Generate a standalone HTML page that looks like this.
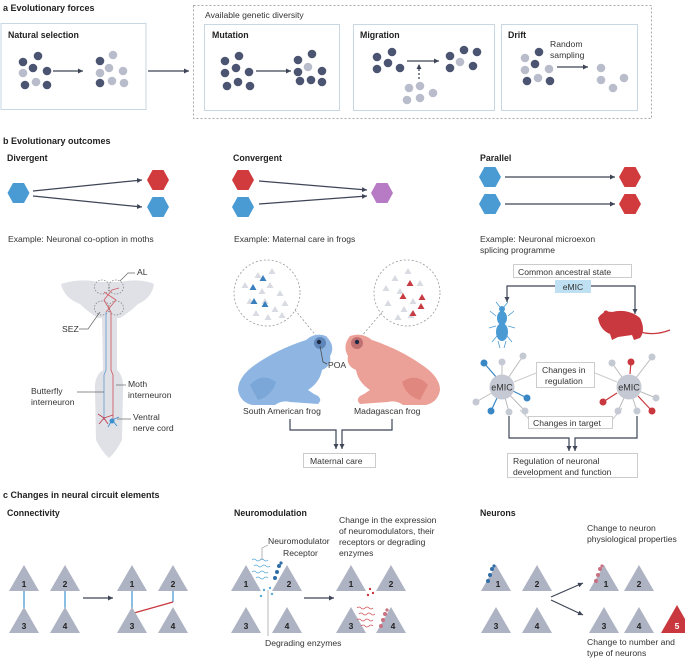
<!DOCTYPE html>
<html><head><meta charset="utf-8"><style>
html,body{margin:0;padding:0;background:#fff}
svg{display:block}
text{font-family:"Liberation Sans",sans-serif;fill:#333;font-size:8.6px}
.t{font-weight:bold;font-size:9px;fill:#222}
.h{font-weight:bold;font-size:8.8px;fill:#222}
.n{font-weight:bold;font-size:8.5px;fill:#222;text-anchor:middle}
</style></head><body>
<svg width="685" height="659" viewBox="0 0 685 659" xmlns="http://www.w3.org/2000/svg">
<defs>
<marker id="ar" markerWidth="6" markerHeight="6" refX="5" refY="3" orient="auto" markerUnits="userSpaceOnUse"><path d="M0,0.5 L5,3 L0,5.5z" fill="#3d4556"/></marker>
<g id="d"><circle r="4.3" fill="#4b5470"/></g>
<g id="l"><circle r="4.3" fill="#b9bdcb"/></g>
</defs>
<!-- a -->
<text x="3" y="11" class="t">a  Evolutionary forces</text>
<rect x="1" y="23.5" width="145" height="86" fill="none" stroke="#c9d7e2"/>
<text x="8" y="38" class="h">Natural selection</text>
<g stroke="#3d4556" stroke-width="1.3" fill="none">
<line x1="53" y1="71" x2="83" y2="71" marker-end="url(#ar)"/>
<line x1="148" y1="71" x2="189" y2="71" marker-end="url(#ar)"/>
<line x1="256" y1="71" x2="291" y2="71" marker-end="url(#ar)"/>
<line x1="407" y1="61" x2="439" y2="61" marker-end="url(#ar)"/>
<line x1="557" y1="67" x2="588" y2="67" marker-end="url(#ar)"/>
<line x1="419" y1="79" x2="419" y2="64" stroke-dasharray="2,2" marker-end="url(#ar)"/>
</g>
<rect x="193.5" y="5.5" width="458" height="113" fill="none" stroke="#aaa" stroke-dasharray="2,2"/>
<text x="205" y="18" style="font-size:8.6px">Available genetic diversity</text>
<rect x="204.5" y="24.5" width="135" height="86" fill="none" stroke="#c9d7e2"/>
<rect x="353.5" y="24.5" width="141" height="86" fill="none" stroke="#c9d7e2"/>
<rect x="501.5" y="24.5" width="136" height="86" fill="none" stroke="#c9d7e2"/>
<text x="212" y="38" class="h">Mutation</text>
<text x="360" y="38" class="h">Migration</text>
<text x="508" y="38" class="h">Drift</text>
<text x="550" y="47">Random</text><text x="550" y="58">sampling</text>
<g>
<use href="#d" x="38" y="56"/><use href="#d" x="23" y="62"/><use href="#d" x="33" y="68"/><use href="#l" x="23" y="73"/><use href="#d" x="47" y="71"/><use href="#d" x="25" y="85"/><use href="#l" x="36" y="82"/><use href="#d" x="47" y="85"/>
<use href="#l" x="113" y="55"/><use href="#d" x="100" y="61"/><use href="#l" x="109" y="68"/><use href="#l" x="100" y="73"/><use href="#l" x="123" y="71"/><use href="#d" x="100" y="83"/><use href="#l" x="112" y="81"/><use href="#l" x="124" y="83"/>
<use href="#d" x="239" y="56"/><use href="#d" x="225" y="61"/><use href="#d" x="236" y="68"/><use href="#d" x="225" y="73"/><use href="#d" x="249" y="72"/><use href="#d" x="227" y="86"/><use href="#d" x="238" y="82"/><use href="#d" x="250" y="86"/>
<use href="#d" x="312" y="54"/><use href="#d" x="298" y="60"/><use href="#l" x="308" y="67"/><use href="#d" x="298" y="72"/><use href="#d" x="322" y="71"/><use href="#d" x="300" y="81"/><use href="#d" x="311" y="80"/><use href="#d" x="322" y="82"/>
<use href="#d" x="392" y="52"/><use href="#d" x="377" y="57"/><use href="#d" x="388" y="63"/><use href="#d" x="377" y="69"/><use href="#d" x="400" y="68"/>
<use href="#d" x="464" y="50"/><use href="#d" x="450" y="56"/><use href="#d" x="477" y="52"/><use href="#l" x="460" y="62"/><use href="#d" x="450" y="68"/><use href="#d" x="473" y="66"/>
<use href="#l" x="420" y="86"/><use href="#l" x="409" y="88"/><use href="#l" x="433" y="93"/><use href="#l" x="407" y="100"/><use href="#l" x="420" y="98"/>
<use href="#d" x="539" y="52"/><use href="#l" x="525" y="58"/><use href="#d" x="535" y="64"/><use href="#l" x="525" y="70"/><use href="#l" x="549" y="69"/><use href="#d" x="527" y="81"/><use href="#l" x="538" y="78"/><use href="#d" x="550" y="81"/>
<use href="#l" x="601" y="68"/><use href="#l" x="601" y="80"/><use href="#l" x="624" y="78"/><use href="#l" x="613" y="88"/>
</g>
<!-- b -->
<text x="3" y="144" class="t">b  Evolutionary outcomes</text>
<text x="7" y="161" class="h">Divergent</text>
<text x="233" y="161" class="h">Convergent</text>
<text x="480" y="161" class="h">Parallel</text>
<g stroke="#3d4556" stroke-width="1.2" fill="none">
<line x1="33" y1="191" x2="142" y2="180" marker-end="url(#ar)"/>
<line x1="33" y1="196" x2="142" y2="207" marker-end="url(#ar)"/>
<line x1="259" y1="181" x2="367" y2="190" marker-end="url(#ar)"/>
<line x1="259" y1="204" x2="367" y2="196" marker-end="url(#ar)"/>
<line x1="505" y1="177" x2="615" y2="177" marker-end="url(#ar)"/>
<line x1="505" y1="204" x2="615" y2="204" marker-end="url(#ar)"/>
</g>
<g>
<path d="M-11,0 L-5.5,-10 L5.5,-10 L11,0 L5.5,10 L-5.5,10z" fill="#4a9bd4" transform="translate(18.5,193)"/>
<path d="M-11,0 L-5.5,-10 L5.5,-10 L11,0 L5.5,10 L-5.5,10z" fill="#d13b3e" transform="translate(158,180)"/>
<path d="M-11,0 L-5.5,-10 L5.5,-10 L11,0 L5.5,10 L-5.5,10z" fill="#4a9bd4" transform="translate(158,207)"/>
<path d="M-11,0 L-5.5,-10 L5.5,-10 L11,0 L5.5,10 L-5.5,10z" fill="#d13b3e" transform="translate(243,180)"/>
<path d="M-11,0 L-5.5,-10 L5.5,-10 L11,0 L5.5,10 L-5.5,10z" fill="#4a9bd4" transform="translate(243,207)"/>
<path d="M-11,0 L-5.5,-10 L5.5,-10 L11,0 L5.5,10 L-5.5,10z" fill="#b67bc4" transform="translate(382,193)"/>
<path d="M-11,0 L-5.5,-10 L5.5,-10 L11,0 L5.5,10 L-5.5,10z" fill="#4a9bd4" transform="translate(490,177)"/>
<path d="M-11,0 L-5.5,-10 L5.5,-10 L11,0 L5.5,10 L-5.5,10z" fill="#4a9bd4" transform="translate(490,204)"/>
<path d="M-11,0 L-5.5,-10 L5.5,-10 L11,0 L5.5,10 L-5.5,10z" fill="#d13b3e" transform="translate(630,177)"/>
<path d="M-11,0 L-5.5,-10 L5.5,-10 L11,0 L5.5,10 L-5.5,10z" fill="#d13b3e" transform="translate(630,204)"/>
</g>
<text x="8" y="242">Example: Neuronal co-option in moths</text>
<text x="234" y="242">Example: Maternal care in frogs</text>
<text x="480" y="242">Example: Neuronal microexon</text>
<text x="480" y="253">splicing programme</text>
<!-- moth -->
<path d="M61,284 Q80,278 98,282 L120,282 Q140,278 154,284 Q152,298 138,304 Q130,312 120,318 L117,318 L117,370 Q124,376 123,390 L122,440 Q116,452 109,458 Q102,452 96,440 L95,390 Q94,376 103,370 L102,318 L98,318 Q88,312 80,304 Q64,298 61,284z" fill="#dfe1e6"/>
<g fill="none" stroke="#888" stroke-dasharray="1.5,1.5" stroke-width="0.8">
<ellipse cx="102" cy="287" rx="7.5" ry="7"/><ellipse cx="116" cy="287" rx="7.5" ry="7"/>
<ellipse cx="102" cy="308" rx="7.5" ry="7"/><ellipse cx="116" cy="308" rx="7.5" ry="7"/>
</g>
<g fill="none" stroke-width="0.9">
<path d="M106,312 L106,370 L104,375 L104,420" stroke="#6fa0d0"/>
<path d="M111,312 L111,370 L113,375 L113,420" stroke="#d06068"/>
<path d="M111,312 L104,300 L112,290 L119,288" stroke="#d06068"/>
<path d="M106,312 L116,300 L104,292" stroke="#d06068"/>
<path d="M104,418 l-6,-4 m6,4 l4,6 m-4,-6 l-5,6 m5,-6 l9,-3" stroke="#c04050"/>
<path d="M112,420 l7,-3 m-7,3 l5,6 m-5,-6 l-4,7" stroke="#3c8fd0"/>
</g>
<circle cx="112" cy="421" r="2.5" fill="#3c8fd0"/>
<g stroke="#666" stroke-width="0.7" fill="none">
<path d="M120,281 L128,273 L135,273"/>
<path d="M100,312 L88,329 L79,329"/>
<path d="M116,385 L126,385"/>
<path d="M77,392 L104,392"/>
<path d="M117,419 L131,419"/>
</g>
<text x="137" y="275">AL</text>
<text x="62" y="332">SEZ</text>
<text x="128" y="387">Moth</text><text x="128" y="398">interneuron</text>
<text x="31" y="394">Butterfly</text><text x="31" y="405">interneuron</text>
<text x="133" y="420">Ventral</text><text x="133" y="431">nerve cord</text>
<!-- frogs circles -->
<g fill="none" stroke="#999" stroke-dasharray="2,2" stroke-width="0.8">
<circle cx="267" cy="293" r="33"/><circle cx="407" cy="293" r="33"/>
<path d="M295,310 L318,338"/><path d="M383,311 L360,338"/>
</g>
<g fill="#d8dbe2">
<path d="M258,272 l3.5,6 h-7z M245,282 l3.5,6 h-7z M270,282 l3.5,6 h-7z M280,290 l3.5,6 h-7z M250,298 l3.5,6 h-7z M265,298 l3.5,6 h-7z M285,300 l3.5,6 h-7z M275,306 l3.5,6 h-7z M256,310 l3.5,6 h-7z M268,314 l3.5,6 h-7z M282,312 l3.5,6 h-7z M272,268 l3.5,6 h-7z M262,288 l3.5,6 h-7z"/>
<path d="M395,275 l3.5,6 h-7z M408,268 l3.5,6 h-7z M386,285 l3.5,6 h-7z M400,288 l3.5,6 h-7z M420,280 l3.5,6 h-7z M388,300 l3.5,6 h-7z M413,298 l3.5,6 h-7z M404,306 l3.5,6 h-7z M398,314 l3.5,6 h-7z M411,312 l3.5,6 h-7z"/>
</g>
<g fill="#3a80bf"><path d="M263,275 l3.5,6 h-7z M253,284 l3.5,6 h-7z M254,298 l3.5,6 h-7z M265,301 l3.5,6 h-7z"/></g>
<g fill="#c73b42"><path d="M410,280 l3.5,6 h-7z M403,293 l3.5,6 h-7z M422,294 l3.5,6 h-7z M421,303 l3.5,6 h-7z M413,310 l3.5,6 h-7z"/></g>
<!-- blue frog -->
<path d="M326,336 Q315,332 306,340 Q275,350 252,367 Q238,378 238,390 Q240,402 252,405 L275,405 Q282,400 290,402 L318,404 Q324,398 314,394 L308,390 Q320,382 322,370 Q332,366 330,356 Q336,346 326,336z" fill="#8fb6e2"/>
<path d="M250,385 Q262,372 276,382 Q272,396 258,400z" fill="#7aa6d8"/>
<circle cx="320" cy="343" r="6" fill="#5f86b8"/><circle cx="319" cy="342" r="2.2" fill="#1d2a44"/>
<!-- pink frog -->
<path d="M350,336 Q362,332 372,340 Q402,350 425,367 Q440,378 440,390 Q438,402 426,405 L403,405 Q396,400 388,402 L360,404 Q354,398 364,394 L370,390 Q358,382 356,370 Q346,366 348,356 Q342,346 350,336z" fill="#eca198"/>
<path d="M428,385 Q416,372 402,382 Q406,396 420,400z" fill="#e0887f"/>
<circle cx="357" cy="343" r="6" fill="#c07070"/><circle cx="357" cy="342" r="2.2" fill="#1d2a44"/>
<path d="M320,346 L323,362 L327,364" stroke="#444" stroke-width="0.7" fill="none"/>
<text x="328" y="368">POA</text>
<text x="243" y="414">South American frog</text>
<text x="354" y="414">Madagascan frog</text>
<g stroke="#3d4556" stroke-width="1.2" fill="none">
<path d="M290,419 L290,430 L336,430 L336,449" marker-end="url(#ar)"/>
<path d="M392,419 L392,430 L342,430 L342,449" marker-end="url(#ar)"/>
</g>
<rect x="303.5" y="453.5" width="72" height="14" fill="#fff" stroke="#ccc"/>
<text x="310" y="464">Maternal care</text>
<!-- parallel -->
<rect x="513.5" y="264.5" width="118" height="13" fill="#fff" stroke="#ccc"/>
<text x="518" y="275">Common ancestral state</text>
<rect x="555" y="280" width="36" height="13" fill="#bfe0f3"/>
<text x="573" y="290" text-anchor="middle">eMIC</text>
<g stroke="#3d4556" stroke-width="1.2" fill="none">
<path d="M555,286 L507,286 L507,302" marker-end="url(#ar)"/>
<path d="M591,286 L635,286 L635,314" marker-end="url(#ar)"/>
</g>
<!-- insect -->
<g fill="#4a9bd4">
<ellipse cx="502" cy="318" rx="5" ry="7"/><ellipse cx="502" cy="332" rx="6" ry="9"/><circle cx="502" cy="309" r="3"/>
</g>
<g stroke="#4a9bd4" stroke-width="0.8" fill="none"><path d="M496,316 l-6,-5 M508,316 l6,-5 M496,326 l-7,2 M508,326 l7,2 M497,336 l-5,6 M507,336 l5,6 M500,307 l-4,-5 M504,307 l4,-5 M498,341 l2,7 M506,341 l-2,7"/></g>
<!-- mouse -->
<path d="M598,318 Q603,310 612,312 Q628,308 640,318 Q646,330 640,338 L634,340 L632,335 L618,337 L612,340 L610,334 Q600,330 598,318z" fill="#c9383e"/>
<path d="M640,332 Q655,336 670,330" stroke="#c9383e" stroke-width="1.3" fill="none"/>
<circle cx="606" cy="313" r="2.5" fill="#c9383e"/>
<!-- eMIC networks -->
<g stroke="#bbb" stroke-width="1" fill="none">
<path d="M502,387 L502,362 M502,387 L523,356 M502,387 L476,402 M502,387 L509,412 M502,387 L525,411 M629,387 L612,363 M629,387 L652,357 M629,387 L618,411 M629,387 L637,411 M629,387 L656,398"/>
<path d="M536,373 L514,382 M595,373 L617,382 M530,420 L520,410 M612,420 L622,408" stroke="#ccc"/>
</g>
<g stroke="#3a87c6" stroke-width="1.2"><path d="M484,363 L497,378 M527,398 L513,391 M491,411 L497,398"/></g>
<g stroke="#c9383e" stroke-width="1.2"><path d="M631,362 L630,374 M603,402 L617,393 M652,411 L638,396"/></g>
<circle cx="502" cy="387" r="12.5" fill="#c5c9d4"/>
<circle cx="629" cy="387" r="12.5" fill="#c5c9d4"/>
<text x="502" y="390.5" text-anchor="middle" style="font-size:9px">eMIC</text>
<text x="629" y="390.5" text-anchor="middle" style="font-size:9px">eMIC</text>
<g fill="#c5c9d4"><circle cx="502" cy="362" r="3.5"/><circle cx="523" cy="356" r="3.5"/><circle cx="476" cy="402" r="3.5"/><circle cx="509" cy="412" r="3.5"/><circle cx="525" cy="411" r="3.5"/><circle cx="612" cy="363" r="3.5"/><circle cx="652" cy="357" r="3.5"/><circle cx="618" cy="411" r="3.5"/><circle cx="637" cy="411" r="3.5"/><circle cx="656" cy="398" r="3.5"/></g>
<g fill="#3a87c6"><circle cx="484" cy="363" r="3.5"/><circle cx="527" cy="398" r="3.5"/><circle cx="491" cy="411" r="3.5"/></g>
<g fill="#c9383e"><circle cx="631" cy="362" r="3.5"/><circle cx="603" cy="402" r="3.5"/><circle cx="652" cy="411" r="3.5"/></g>
<rect x="536.5" y="362.5" width="58" height="25" fill="#fff" stroke="#ccc"/>
<text x="542" y="373">Changes in</text><text x="545" y="384">regulation</text>
<rect x="528.5" y="416.5" width="84" height="12" fill="#fff" stroke="#ccc"/>
<text x="533" y="426">Changes in target</text>
<g stroke="#3d4556" stroke-width="1.2" fill="none">
<path d="M509,416 L509,438 L569,438 L569,451" marker-end="url(#ar)"/>
<path d="M637,416 L637,438 L575,438 L575,451" marker-end="url(#ar)"/>
</g>
<rect x="507.5" y="453.5" width="130" height="24" fill="#fff" stroke="#ccc"/>
<text x="513" y="464">Regulation of neuronal</text><text x="513" y="475">development and function</text>
<!-- c -->
<text x="3" y="498" class="t">c  Changes in neural circuit elements</text>
<text x="7" y="516" class="h">Connectivity</text>
<text x="234" y="516" class="h">Neuromodulation</text>
<text x="480" y="516" class="h">Neurons</text>
<g stroke="#4a9bd4" stroke-width="1.3">
<line x1="24" y1="590" x2="24" y2="608"/><line x1="65" y1="590" x2="65" y2="608"/>
<line x1="132" y1="590" x2="132" y2="612"/><line x1="173" y1="590" x2="173" y2="602"/>
</g>
<line x1="134" y1="613" x2="173" y2="602" stroke="#c9383e" stroke-width="1.3"/>
<g fill="#aeb3c3">
<path d="M24,565 l15,26 h-30z M65,565 l15,26 h-30z M24,607 l15,26 h-30z M65,607 l15,26 h-30z"/>
<path d="M132,565 l15,26 h-30z M173,565 l15,26 h-30z M132,607 l15,26 h-30z M173,607 l15,26 h-30z"/>
<path d="M246,565 l15,26 h-30z M287,565 l15,26 h-30z M246,607 l15,26 h-30z M287,607 l15,26 h-30z"/>
<path d="M351,565 l15,26 h-30z M391,565 l15,26 h-30z M351,607 l15,26 h-30z M391,607 l15,26 h-30z"/>
<path d="M496,565 l15,26 h-30z M537,565 l15,26 h-30z M496,607 l15,26 h-30z M537,607 l15,26 h-30z"/>
<path d="M604,565 l15,26 h-30z M639,565 l15,26 h-30z M604,607 l15,26 h-30z M639,607 l15,26 h-30z"/>
</g>
<path d="M677,605 l16,28 h-32z" fill="#c9383e"/>
<g class="n">
<text x="24" y="587" class="n">1</text><text x="65" y="587" class="n">2</text><text x="24" y="629" class="n">3</text><text x="65" y="629" class="n">4</text>
<text x="132" y="587" class="n">1</text><text x="173" y="587" class="n">2</text><text x="132" y="629" class="n">3</text><text x="173" y="629" class="n">4</text>
<text x="246" y="587" class="n">1</text><text x="289" y="587" class="n">2</text><text x="246" y="629" class="n">3</text><text x="287" y="629" class="n">4</text>
<text x="351" y="587" class="n">1</text><text x="391" y="587" class="n">2</text><text x="351" y="629" class="n">3</text><text x="393" y="629" class="n">4</text>
<text x="498" y="587" class="n">1</text><text x="537" y="587" class="n">2</text><text x="496" y="629" class="n">3</text><text x="537" y="629" class="n">4</text>
<text x="606" y="587" class="n">1</text><text x="639" y="587" class="n">2</text><text x="604" y="629" class="n">3</text><text x="639" y="629" class="n">4</text>
<text x="677" y="629" class="n" style="fill:#fff">5</text>
</g>
<g stroke="#3d4556" stroke-width="1.2" fill="none">
<line x1="83" y1="598" x2="113" y2="598" marker-end="url(#ar)"/>
<line x1="304" y1="598" x2="334" y2="598" marker-end="url(#ar)"/>
<line x1="551" y1="597" x2="583" y2="583" marker-end="url(#ar)"/>
<line x1="551" y1="600" x2="583" y2="615" marker-end="url(#ar)"/>
</g>
<g fill="none" stroke="#5aaad8" stroke-width="0.8">
<path d="M252,560 q2,-2 4,0 t4,0 t4,0 t4,0 M254,566 q2,-2 4,0 t4,0 t4,0 t4,0 M252,572 q2,-2 4,0 t4,0 t4,0 t4,0 M256,578 q2,-2 4,0 t4,0 t4,0"/>
</g>
<g fill="none" stroke="#d0555b" stroke-width="0.8">
<path d="M357,608 q2,-2 4,0 t4,0 t4,0 t4,0 M359,614 q2,-2 4,0 t4,0 t4,0 t4,0 M357,620 q2,-2 4,0 t4,0 t4,0 t4,0 M361,626 q2,-2 4,0 t4,0 t4,0"/>
</g>
<g fill="#2f6ea8"><circle cx="279" cy="566" r="2"/><circle cx="277" cy="572" r="2"/><circle cx="275" cy="578" r="2"/><circle cx="281" cy="563" r="1.6"/></g>
<g fill="#5aaad8"><circle cx="264" cy="590" r="1.2"/><circle cx="270" cy="588" r="1.2"/><circle cx="261" cy="596" r="1.2"/><circle cx="272" cy="594" r="1.2"/></g>
<g fill="#c9383e"><circle cx="370" cy="589" r="1.2"/><circle cx="373" cy="593" r="1.2"/><circle cx="368" cy="595" r="1.2"/></g>
<g fill="#c97080"><circle cx="385" cy="614" r="2"/><circle cx="383" cy="620" r="2"/><circle cx="381" cy="626" r="2"/><circle cx="387" cy="610" r="1.6"/></g>
<g fill="#2f6ea8"><circle cx="492" cy="569" r="2"/><circle cx="490" cy="575" r="2"/><circle cx="488" cy="581" r="2"/><circle cx="494" cy="566" r="1.6"/></g>
<g fill="#c97080"><circle cx="600" cy="569" r="2"/><circle cx="598" cy="575" r="2"/><circle cx="596" cy="581" r="2"/><circle cx="602" cy="566" r="1.6"/></g>
<g stroke="#888" stroke-width="0.6" fill="none"><path d="M268,545 L262,548 L262,560 M268,590 L268,636"/></g>
<text x="268" y="544">Neuromodulator</text>
<text x="283" y="556">Receptor</text>
<text x="339" y="523">Change in the expression</text>
<text x="339" y="534">of neuromodulators, their</text>
<text x="339" y="545">receptors or degrading</text>
<text x="339" y="556">enzymes</text>
<text x="265" y="646">Degrading enzymes</text>
<text x="587" y="531">Change to neuron</text>
<text x="587" y="542">physiological properties</text>
<text x="587" y="645">Change to number and</text>
<text x="587" y="656">type of neurons</text>
</svg>
</body></html>
